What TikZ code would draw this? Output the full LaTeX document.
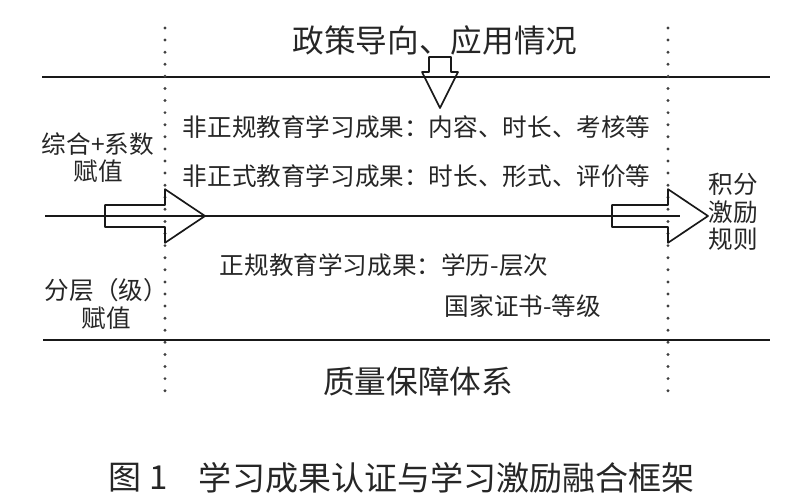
\documentclass[tikz,border=0pt]{standalone}
\usepackage{fontspec}
\newfontfamily\cjk{Noto Sans CJK SC}
\usepackage{tikz}
\usetikzlibrary{positioning, calc}

\begin{document}
\begin{tikzpicture}[
  font=\cjk, text=black!85,
  mainline/.style={line width=1.2pt, black!90},
  dotline/.style={line width=2.3pt, black!75, line cap=round, dash pattern=on 0pt off 8.6pt},
  blockarrow/.style={line width=1.2pt, black!90, line join=round},
  bigtxt/.style={font=\cjk\fontsize{22.5}{26}\selectfont},
  midtxt/.style={font=\cjk\fontsize{17.5}{20}\selectfont, align=center},
  sidetxt/.style={font=\cjk\fontsize{17.5}{19.5}\selectfont, align=center}
]
\useasboundingbox (0,0) rectangle (20,12.575);

% Layer boundaries
\coordinate (topL) at (1.05,10.65);
\coordinate (topR) at (19.25,10.65);
\coordinate (botL) at (1.08,4.075);
\coordinate (botR) at (19.25,4.075);
\draw[mainline] (topL) -- (topR);
\draw[mainline] (botL) -- (botR);

% Dotted separators
\coordinate (sepLa) at (4.125,11.875);
\coordinate (sepLb) at (4.125,2.625);
\coordinate (sepRa) at (16.7,11.875);
\coordinate (sepRb) at (16.7,2.625);
\draw[dotline] (sepLa) -- (sepLb);
\draw[dotline] (sepRa) -- (sepRb);

% Main axis with block arrows
\coordinate (axisL) at (1.125,7.175);
\coordinate (axisR) at (17.0,7.175);
\coordinate (ltail) at (2.625,7.175);
\coordinate (rtail) at (15.3,7.175);
\coordinate (dtail) at (11.0,11.15);
\draw[mainline] (axisL) -- (axisR);
\draw[blockarrow] (ltail) ++(0,0.275) -- ++(1.5,0) -- ++(0,0.395) -- ++(1.0,-0.67)
  -- ++(-1.0,-0.67) -- ++(0,0.395) -- ++(-1.5,0) -- cycle;
\draw[blockarrow] (rtail) ++(0,0.275) -- ++(1.4,0) -- ++(0,0.395) -- ++(1.0,-0.67)
  -- ++(-1.0,-0.67) -- ++(0,0.395) -- ++(-1.4,0) -- cycle;
\draw[blockarrow] (dtail) ++(-0.275,0) -- ++(0.55,0) -- ++(0,-0.375) -- ++(0.175,0)
  -- ++(-0.45,-0.9) -- ++(-0.45,0.9) -- ++(0.175,0) -- cycle;

% Top and bottom layers
\node[bigtxt] (policy) at (10.875,11.575) {政策导向、应用情况};
\node[bigtxt] (quality) at (10.45,3.05) {质量保障体系};

% Learning outcomes
\node[midtxt, anchor=west] (nonformal) at (4.45,9.4) {非正规教育学习成果：内容、时长、考核等};
\node[midtxt, anchor=west] (informal) at (4.45,8.175) {非正式教育学习成果：时长、形式、评价等};
\node[midtxt, anchor=west] (formal) at (5.375,5.95) {正规教育学习成果：学历-层次};
\node[midtxt, anchor=west] (cert) at (11.0,4.925) {国家证书-等级};

% Side labels
\node[sidetxt] (coef) at (2.45,8.64) {综合+系数\\赋值};
\node[sidetxt] (grade) at (2.66,4.975) {分层（级）\\赋值};
\node[sidetxt] (rule) at (18.33,7.275) {积分\\激励\\规则};

% Caption
\node[bigtxt, anchor=west, font=\cjk\fontsize{23.5}{26}\selectfont] (fignum) at (2.6,0.625) {图 1};
\node[bigtxt, anchor=west, font=\cjk\fontsize{23.5}{26}\selectfont] (caption) at (4.85,0.625) {学习成果认证与学习激励融合框架};
\end{tikzpicture}
\end{document}
